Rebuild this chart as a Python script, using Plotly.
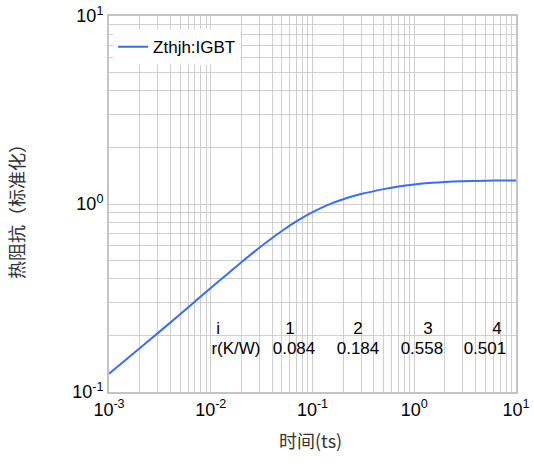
import plotly.graph_objects as go

# Transient thermal impedance curve (time in s, normalised Zth)
time_s = [0.001, 0.002, 0.003, 0.005, 0.007, 0.01, 0.015, 0.02, 0.03, 0.05,
          0.07, 0.1, 0.15, 0.2, 0.3, 0.5, 0.7, 1.0, 1.5, 2.0, 3.0, 5.0, 7.0, 10.0]
zth = [0.125, 0.171, 0.205, 0.259, 0.303, 0.357, 0.430, 0.490, 0.585, 0.718,
       0.810, 0.905, 1.001, 1.060, 1.129, 1.200, 1.240, 1.271, 1.297, 1.310,
       1.322, 1.330, 1.333, 1.335]
series_name = "Zthjh:IGBT"

# Foster network table
row_heads = ["i", "r(K/W)"]
stage_index = ["1", "2", "3", "4"]
stage_r = ["0.084", "0.184", "0.558", "0.501"]

# Axis ticks
x_major = [1e-3, 1e-2, 1e-1, 1e0, 1e1]
x_major_text = ["10<sup>-3</sup>", "10<sup>-2</sup>", "10<sup>-1</sup>", "10<sup>0</sup>", "10<sup>1</sup>"]
y_major = [1e-1, 1e0, 1e1]
y_major_text = ["10<sup>-1</sup>", "10<sup>0</sup>", "10<sup>1</sup>"]
x_minor = [m * d for d in [1e-3, 1e-2, 1e-1, 1e0] for m in range(2, 10)]
y_minor = [m * d for d in [1e-1, 1e0] for m in range(2, 10)]

grid_col = "#cfcfcf"
sans = "Liberation Sans, Arial, sans-serif"
tick_font = dict(family=sans, size=18, color="black")
text_font = dict(family=sans, size=17, color="black")
title_font = dict(family="Noto Sans CJK SC", size=18, color="#333")

# Plot area in pixels
plot_l, plot_r, plot_t, plot_b = 109, 516, 16, 392
pw, ph = plot_r - plot_l, plot_b - plot_t

fig = go.Figure()
fig.add_trace(go.Scatter(
    x=time_s, y=zth, mode="lines", name=series_name,
    line=dict(color="#3a6df5", width=2, shape="spline", smoothing=1.0),
))

# Table text placed on the log axes (row 1: stage numbers, row 2: resistances)
row1_z, row2_z = 0.214, 0.167
head_t = [0.0118, 0.0177]
stage_t = [0.0601, 0.280, 1.365, 6.50]
r_t = [0.0658, 0.280, 1.19, 4.95]
fig.add_trace(go.Scatter(
    x=head_t + stage_t + r_t,
    y=[row1_z, row2_z] + [row1_z] * 4 + [row2_z] * 4,
    text=row_heads + stage_index + stage_r,
    mode="text", textposition="middle center", textfont=text_font,
    showlegend=False, hoverinfo="skip",
))

axis_common = dict(
    type="log", showline=True, mirror=True, linecolor="#c4c4c4", linewidth=2,
    showgrid=True, gridcolor=grid_col, gridwidth=1, zeroline=False, ticks="",
    tickfont=tick_font, automargin=False,
)
fig.update_xaxes(
    **axis_common, range=[-3, 1], tickmode="array", tickvals=x_major, ticktext=x_major_text,
    minor=dict(tickvals=x_minor, showgrid=True, gridcolor=grid_col, gridwidth=1, ticks=""),
)
fig.update_yaxes(
    **axis_common, range=[-1, 1], tickmode="array", tickvals=y_major, ticktext=y_major_text,
    minor=dict(tickvals=y_minor, showgrid=True, gridcolor=grid_col, gridwidth=1, ticks=""),
)

# Axis titles
fig.add_annotation(x=(310 - plot_l) / pw, y=(plot_b - 455) / ph, xref="paper", yref="paper",
                   text="时间(ts)", showarrow=False, font=title_font)
fig.add_annotation(x=(1 - plot_l) / pw, y=(plot_b - 207) / ph, xref="paper", yref="paper",
                   text="热阻抗（标准化）", textangle=-90, showarrow=False, font=title_font)

fig.update_layout(
    width=534, height=472,
    margin=dict(l=plot_l, r=534 - plot_r, t=plot_t, b=472 - plot_b),
    plot_bgcolor="white", paper_bgcolor="white",
    showlegend=True,
    legend=dict(x=0.01, y=0.965, xanchor="left", yanchor="top",
                bgcolor="white", borderwidth=0, font=text_font),
)

fig.write_html("out.html")
